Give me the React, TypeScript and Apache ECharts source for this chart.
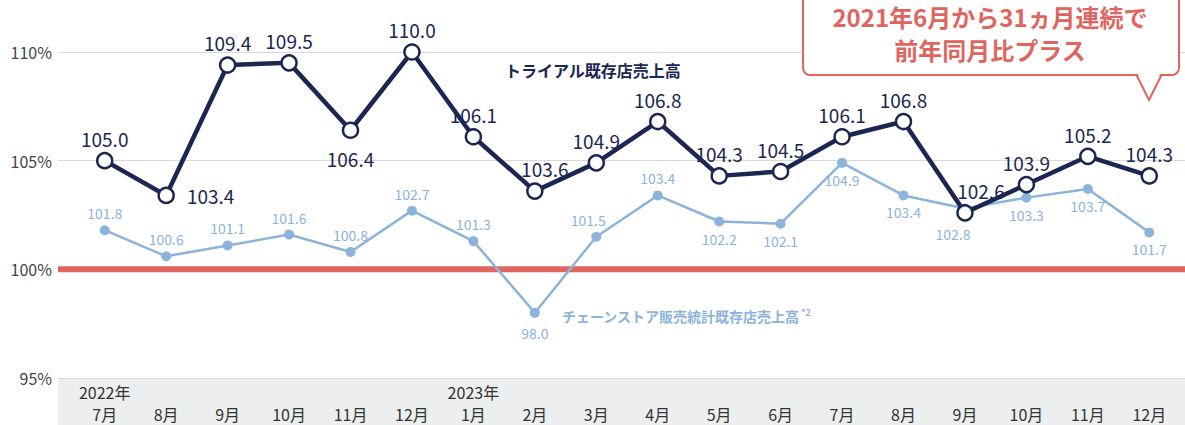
import React, { useEffect, useRef } from "react";
import * as echarts from "echarts";

const months = ["7月", "8月", "9月", "10月", "11月", "12月", "1月", "2月", "3月", "4月", "5月", "6月", "7月", "8月", "9月", "10月", "11月", "12月"];
const years = ["2022年", "", "", "", "", "", "2023年", "", "", "", "", "", "", "", "", "", "", ""];
const trial = [105.0, 103.4, 109.4, 109.5, 106.4, 110.0, 106.1, 103.6, 104.9, 106.8, 104.3, 104.5, 106.1, 106.8, 102.6, 103.9, 105.2, 104.3];
const chain = [101.8, 100.6, 101.1, 101.6, 100.8, 102.7, 101.3, 98.0, 101.5, 103.4, 102.2, 102.1, 104.9, 103.4, 102.8, 103.3, 103.7, 101.7];
const yTicks = [95, 100, 105, 110];
const baseline = 100;
const trialName = "トライアル既存店売上高";
const chainName = "チェーンストア販売統計既存店売上高";
const calloutLines = ["2021年6月から31ヵ月連続で", "前年同月比プラス"];

const FONT = "'Noto Sans CJK JP', 'Noto Sans', sans-serif";
const NAVY = "#1b2752";
const LIGHT = "#8cb3db";
const CORAL = "#e0655f";

export default function App() {
  const ref = useRef<HTMLDivElement>(null);
  useEffect(() => {
    if (!ref.current) return;
    const chart = echarts.init(ref.current, undefined, { renderer: "svg" });

    const trialLabel = (i: number) => {
      if (i === 1) return { position: "right", distance: 12 };
      if (i === 4) return { position: "bottom", distance: 10 };
      if (i === 7) return { position: "top", offset: [10, 0] };
      if (i === 14) return { position: "top", offset: [16, 0] };
      return { position: "top" };
    };
    const chainLabel = (i: number) => {
      if (i === 7) return { position: "bottom", distance: 8 };
      if (i === 8) return { position: "top", offset: [-8, 0] };
      if (i === 14) return { position: "bottom", distance: 14, offset: [-12, 0] };
      if (i <= 9) return { position: "top" };
      return { position: "bottom" };
    };

    const option: any = {
      animation: false,
      textStyle: { fontFamily: FONT },
      grid: [
        { left: 58, right: 0, top: 52, bottom: 47 },
        { left: 74, right: 5, top: 52, bottom: 47 },
      ],
      xAxis: [
        { type: "value", gridIndex: 0, min: 0, max: 1, show: false },
        {
          type: "category",
          gridIndex: 1,
          data: months.map((m, i) => years[i] + "\n" + m),
          boundaryGap: true,
          axisLine: { show: false },
          axisTick: { show: false },
          axisLabel: {
            margin: 3,
            fontSize: 16,
            lineHeight: 22,
            color: "#333",
            fontFamily: FONT,
            interval: 0,
          },
        },
      ],
      yAxis: [
        {
          type: "value",
          gridIndex: 0,
          min: 95,
          max: 110,
          interval: 5,
          axisLine: { show: false },
          axisTick: { show: false },
          axisLabel: {
            formatter: (v: number) => (yTicks.includes(v) ? v + "%" : ""),
            fontSize: 16,
            color: "#444",
            margin: 6,
            fontFamily: FONT,
          },
          splitLine: { lineStyle: { color: "#d9d9d9", width: 1 } },
        },
        { type: "value", gridIndex: 1, min: 95, max: 110, interval: 5, show: false },
      ],
      series: [
        {
          type: "line",
          xAxisIndex: 0,
          yAxisIndex: 0,
          data: [[0, baseline], [1, baseline]],
          symbol: "none",
          silent: true,
          lineStyle: { color: CORAL, width: 6 },
          z: 1,
        },
        {
          type: "line",
          name: chainName,
          xAxisIndex: 1,
          yAxisIndex: 1,
          data: chain.map((v, i) => ({ value: v, label: chainLabel(i) })),
          symbol: "circle",
          symbolSize: 10,
          itemStyle: { color: LIGHT },
          lineStyle: { color: LIGHT, width: 2.5 },
          label: {
            show: true,
            fontSize: 14,
            color: LIGHT,
            fontFamily: FONT,
            formatter: (p: any) => Number(p.value).toFixed(1),
          },
          z: 3,
        },
        {
          type: "line",
          name: trialName,
          xAxisIndex: 1,
          yAxisIndex: 1,
          data: trial.map((v, i) => ({ value: v, label: trialLabel(i) })),
          symbol: "circle",
          symbolSize: 15,
          itemStyle: { color: "#fff", borderColor: NAVY, borderWidth: 2.5 },
          lineStyle: { color: NAVY, width: 4.5 },
          label: {
            show: true,
            fontSize: 19,
            color: NAVY,
            fontFamily: FONT,
            distance: 4,
            formatter: (p: any) => Number(p.value).toFixed(1),
          },
          z: 5,
        },
      ],
      graphic: [
        {
          type: "rect",
          z: -10,
          shape: { x: 58, y: 378, width: 1127, height: 47 },
          style: { fill: "#edefee" },
        },
        {
          type: "text",
          x: 505,
          y: 70,
          style: {
            text: trialName,
            font: `bold 16px ${FONT}`,
            fill: NAVY,
            verticalAlign: "middle",
          },
        },
        {
          type: "text",
          x: 562,
          y: 316,
          style: {
            text: `{a|${chainName}}{b|*2}`,
            verticalAlign: "middle",
            fill: LIGHT,
            rich: {
              a: { fontSize: 14, fontFamily: FONT, fill: LIGHT, fontWeight: "bold" },
              b: { fontSize: 9, fontFamily: FONT, fill: LIGHT, fontWeight: "bold", padding: [0, 0, 7, 1] },
            },
          },
        },
        {
          type: "rect",
          z: 20,
          shape: { x: 803, y: -10, width: 376, height: 85, r: 7 },
          style: { fill: "#fff", stroke: CORAL, lineWidth: 2 },
        },
        {
          type: "polygon",
          z: 21,
          shape: { points: [[1137, 72], [1149, 99], [1161, 72]] },
          style: { fill: "#fff" },
        },
        {
          type: "polyline",
          z: 22,
          shape: { points: [[1136.5, 75], [1149, 100], [1161.5, 75]] },
          style: { stroke: CORAL, lineWidth: 2, fill: null },
        },
        {
          type: "text",
          z: 23,
          x: 990,
          y: 16,
          style: {
            text: calloutLines[0],
            font: `bold 24px ${FONT}`,
            fill: CORAL,
            align: "center",
            verticalAlign: "middle",
          },
        },
        {
          type: "text",
          z: 23,
          x: 990,
          y: 49,
          style: {
            text: calloutLines[1],
            font: `bold 24px ${FONT}`,
            fill: CORAL,
            align: "center",
            verticalAlign: "middle",
          },
        },
      ],
    };
    chart.setOption(option);
    return () => chart.dispose();
  }, []);
  return <div ref={ref} style={{ position: "absolute", left: 0, top: 0, width: 1185, height: 425 }} />;
}
